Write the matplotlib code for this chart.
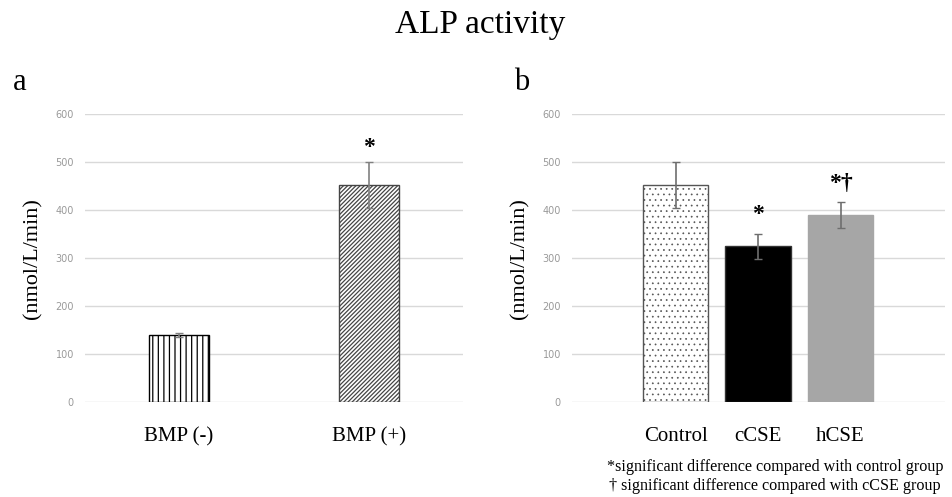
import matplotlib.pyplot as plt

plt.rcParams['font.family'] = ['Liberation Serif', 'DejaVu Serif']

# panel a
groups_a = ['BMP (-)', 'BMP (+)']
mean_a = [140, 452]
err_a = [5, 48]
marks_a = ['', '*']

# panel b
groups_b = ['Control', 'cCSE', 'hCSE']
mean_b = [452, 325, 389]
err_b = [48, 26, 27]
marks_b = ['', '*', '*†']

yticks = [0, 100, 200, 300, 400, 500, 600]

fig = plt.figure(figsize=(9.52, 4.97), dpi=100)
fig.text(0.504, 0.950, 'ALP activity', ha='center', va='center', fontsize=24)

ax1 = fig.add_axes([0.0893, 0.1905, 0.397, 0.580])
ax2 = fig.add_axes([0.6008, 0.1905, 0.392, 0.580])


def style(ax):
    ax.set_ylim(0, 600)
    ax.set_yticks(yticks)
    ax.grid(axis='y', color='#d9d9d9', lw=1)
    ax.set_axisbelow(True)
    for s in ax.spines.values():
        s.set_visible(False)
    ax.tick_params(length=0)
    ax.tick_params(axis='y', labelsize=7, labelcolor='#999999', pad=8)
    for t in ax.get_yticklabels():
        t.set_family('DejaVu Sans')
    ax.tick_params(axis='x', labelsize=15, pad=18)
    ax.set_ylabel('(nmol/L/min)', fontsize=16, labelpad=9)


# ---- a ----
xa = range(len(groups_a))
plt.rcParams['hatch.linewidth'] = 0.9
b = ax1.bar(xa, mean_a, 0.316, color='white', edgecolor='black', lw=1)
b[0].set_hatch('|||')
plt.rcParams['hatch.linewidth'] = 0.6
b[1].set_hatch('////////')
b[1].set_edgecolor('#444444')
ax1.errorbar(xa, mean_a, yerr=err_a, fmt='none', ecolor='#808080', elinewidth=1.2, capsize=3)
for i in xa:
    if marks_a[i]:
        ax1.text(i, mean_a[i] + err_a[i] + 30, marks_a[i], ha='center', va='center',
                 fontsize=17, fontweight='bold')
ax1.set_xlim(-0.495, 1.495)
ax1.set_xticks(list(xa))
ax1.set_xticklabels(groups_a)
style(ax1)

# ---- b ----
xb = range(len(groups_b))
plt.rcParams['hatch.color'] = '#777777'
plt.rcParams['hatch.linewidth'] = 0.5
bb = ax2.bar(xb, mean_b, 0.79, color=['white', 'black', '#a6a6a6'],
             edgecolor=['#555555', '#333333', '#a6a6a6'], lw=1)
bb[0].set_hatch('...')
ax2.errorbar(xb, mean_b, yerr=err_b, fmt='none', ecolor='#6e6e6e', elinewidth=1.2, capsize=3)
for i in xb:
    if marks_b[i]:
        ax2.text(i, mean_b[i] + err_b[i] + 40, marks_b[i], ha='center', va='center',
                 fontsize=17, fontweight='bold')
ax2.set_xlim(-1.255, 3.267)
ax2.set_xticks(list(xb))
ax2.set_xticklabels(groups_b)
style(ax2)

fig.text(0.013, 0.835, 'a', fontsize=22, va='center')
fig.text(0.54, 0.835, 'b', fontsize=22, va='center')

fig.text(0.638, 0.060, '*significant difference compared with control group', ha='left', va='center', fontsize=11.6)
fig.text(0.640, 0.022, '† significant difference compared with cCSE group', ha='left', va='center', fontsize=11.6)

fig.savefig('out.png', dpi=100)
